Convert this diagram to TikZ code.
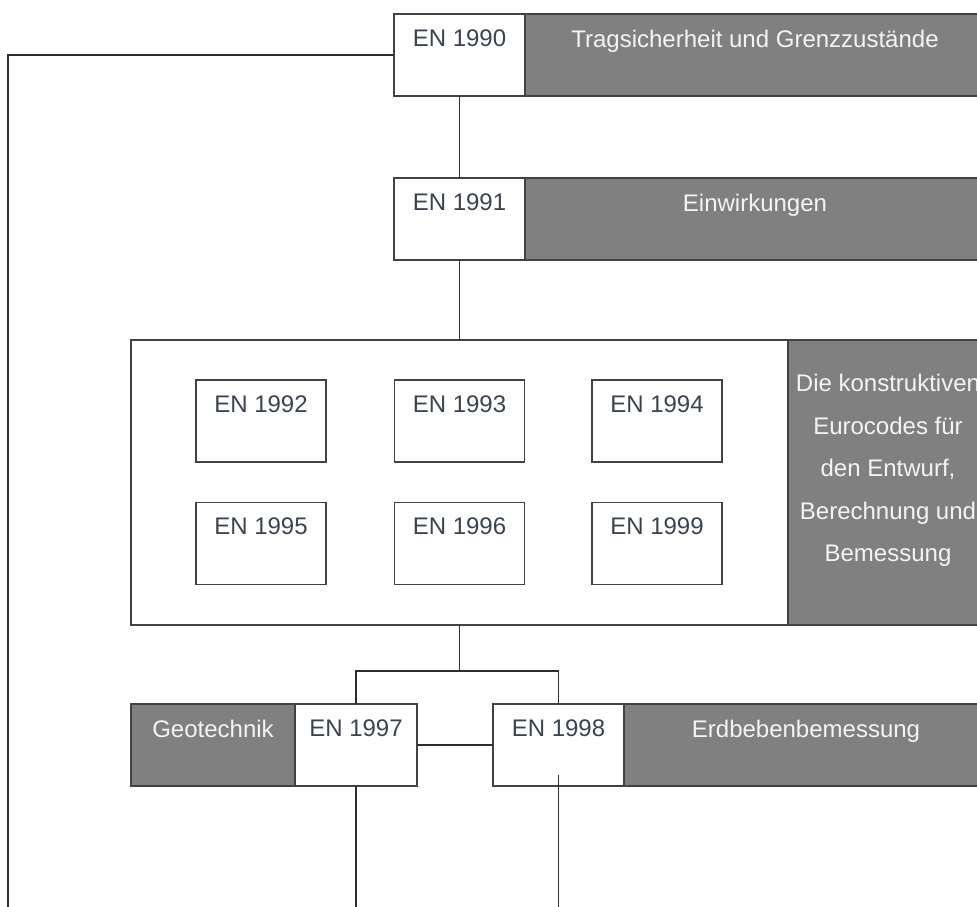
\documentclass[tikz,border=0pt]{standalone}
\usepackage{fontspec}
\setmainfont{Liberation Sans}
\usetikzlibrary{positioning,calc}
\definecolor{rahmen}{HTML}{424242}
\definecolor{linie}{HTML}{2E2E2E}
\definecolor{grau}{HTML}{808080}
\definecolor{schrift}{HTML}{3B4350}
\definecolor{hell}{HTML}{F4F4F4}

\begin{document}
\begin{tikzpicture}[x=1pt,y=-1pt,font=\fontsize{24}{28}\selectfont]
\tikzset{en/.style={draw=rahmen,line width=1.8pt,fill=white,inner sep=0pt,outer sep=0pt,minimum width=131pt,minimum height=82pt,label={[entext]north:#1}}, entext/.style={anchor=north,yshift=-15.4pt,inner sep=0pt,text=schrift}, graubox/.style={draw=rahmen,line width=1.8pt,fill=grau,inner sep=0pt,outer sep=0pt,minimum height=82pt}, grauf/.style={graubox,label={[grautext]north:#1}}, grautext/.style={anchor=north,yshift=-16.4pt,inner sep=0pt,text=hell}, verb/.style={draw=linie,line width=1.8pt}}
\useasboundingbox (0,0) rectangle (977,907);
\clip (0,0) rectangle (977,907);
% obere Reihe
\node[en=EN 1990] (e90) at (459.5,55) {};
\node[grauf=Tragsicherheit und Grenzzustände,minimum width=460pt,right=0pt of e90] (t90) {};
\node[en=EN 1991,below=82pt of e90] (e91) {};
\node[grauf=Einwirkungen,minimum width=460pt,right=0pt of e91] (t91) {};
% konstruktive Eurocodes
\node[draw=rahmen,line width=1.8pt,fill=white,inner sep=0pt,outer sep=0pt,minimum width=657pt,minimum height=285pt,below=80pt of e91] (gruppe) {};
\node[graubox,minimum width=200pt,minimum height=285pt,right=0pt of gruppe,label={[anchor=north,yshift=-34.4pt,inner sep=0pt,text=hell,align=center,font=\fontsize{24}{42.5}\selectfont]north:{Die konstruktiven\\Eurocodes für\\den Entwurf,\\Berechnung und\\Bemessung}}] (tgr) {};
\node[en=EN 1992,minimum width=130pt] (e92) at (261,421) {};
\node[en=EN 1993,minimum width=130pt] (e93) at (459.5,421) {};
\node[en=EN 1994,minimum width=130pt] (e94) at (657,421) {};
\node[en=EN 1995,minimum width=130pt] (e95) at (261,543.5) {};
\node[en=EN 1996,minimum width=130pt] (e96) at (459.5,543.5) {};
\node[en=EN 1999,minimum width=130pt] (e99) at (657,543.5) {};
% untere Reihe
\node[en=EN 1997,minimum width=122pt] (e97) at (356,745) {};
\node[grauf=Geotechnik,minimum width=164pt,left=0pt of e97] (t97) {};
\node[en=EN 1998] (e98) at (558.5,745) {};
\node[grauf=Erdbebenbemessung,minimum width=364pt,right=0pt of e98] (t98) {};
% Verbindungen
\coordinate (unten) at (0,915);
\coordinate (links) at (8,55);
\coordinate (verz) at (459.5,671);
\draw[verb] (e90.west) -- (links) -- (links |- unten);
\draw[verb] (e90.south) -- (e91.north);
\draw[verb] (e91.south) -- (gruppe.north);
\draw[verb] (gruppe.south) -- (verz);
\draw[verb] (e97.north) |- (verz) -| (e98.north);
\draw[verb] (e97.east) -- (e98.west);
\draw[verb] (e97.south) -- (e97.south |- unten);
\draw[verb] ($(e98.south)+(0,-11)$) -- (e98.south |- unten);
\end{tikzpicture}
\end{document}
